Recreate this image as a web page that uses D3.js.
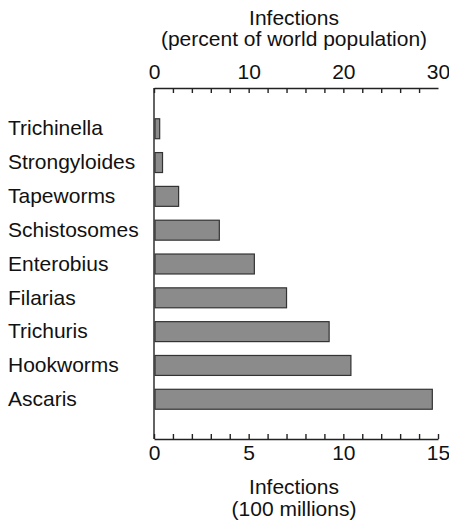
<!DOCTYPE html>
<html lang="en">
<head>
  <meta charset="UTF-8">
  <title>Parasite Infections</title>
  <script src="https://d3js.org/d3.v7.min.js"></script>
  <style>
    body { margin: 0; background: #fff; }
    text { font-family: "Liberation Sans", Arial, sans-serif; fill: #111; }
  </style>
</head>
<body>
<div class="main"></div>
<script>
  // data (infections in 100 millions)
  var parasites = ["Trichinella", "Strongyloides", "Tapeworms", "Schistosomes", "Enterobius",
                   "Filarias", "Trichuris", "Hookworms", "Ascaris"];
  var infections = [0.3, 0.45, 1.3, 3.45, 5.3, 7.0, 9.25, 10.4, 14.7];
  var bottomTicks = [0, 5, 10, 15];
  var topTicks = [0, 10, 20, 30];

  var width = 449, height = 522;
  var plotLeft = 154, plotRight = 438, plotTop = 88, plotBottom = 439;
  var fontSize = 21;

  var svg = d3.select(".main")
          .append("svg")
          .attr("width", width)
          .attr("height", height);

  var xScale = d3.scaleLinear().domain([0, 15]).range([plotLeft, plotRight]);
  var xTop = d3.scaleLinear().domain([0, 30]).range([plotLeft, plotRight]);
  var yScale = d3.scaleBand().domain(parasites).range([112, 416])
          .paddingInner(0.41).paddingOuter(0.2);

  function draw(axis, translate) {
    var g = svg.append("g").attr("transform", translate).call(axis);
    g.selectAll("path,line").attr("stroke", "#222").attr("stroke-width", 1.4);
    g.selectAll("text").style("font-size", fontSize + "px").attr("font-family", null);
    return g;
  }

  // bottom axis: minor ticks, then labels
  draw(d3.axisBottom(xScale).tickValues(d3.range(0, 16, 1)).tickSize(-5).tickSizeOuter(0).tickFormat(""),
       `translate(0, ${plotBottom})`);
  draw(d3.axisBottom(xScale).tickValues(bottomTicks).tickSize(0).tickPadding(6),
       `translate(0, ${plotBottom})`).select(".domain").remove();

  // top axis
  draw(d3.axisTop(xTop).tickValues(d3.range(0, 30, 2)).tickSize(-5).tickSizeOuter(0).tickFormat(""),
       `translate(0, ${plotTop})`);
  draw(d3.axisTop(xTop).tickValues(topTicks).tickSize(0).tickPadding(9),
       `translate(0, ${plotTop})`).select(".domain").remove();

  // left vertical line
  svg.append("line")
          .attr("x1", plotLeft).attr("x2", plotLeft)
          .attr("y1", plotTop).attr("y2", plotBottom)
          .attr("stroke", "#222").attr("stroke-width", 1.4);

  // bars
  svg.append("g").selectAll("rect")
          .data(parasites)
          .join("rect")
          .attr("x", xScale(0) + 1)
          .attr("y", function (d) { return yScale(d); })
          .attr("width", function (d, i) { return xScale(infections[i]) - xScale(0) - 1; })
          .attr("height", yScale.bandwidth())
          .attr("fill", "#8b8b8b")
          .attr("stroke", "#333")
          .attr("stroke-width", 1.2);

  // category labels
  svg.append("g").selectAll("text")
          .data(parasites)
          .join("text")
          .attr("x", 8)
          .attr("y", function (d) { return yScale(d) + yScale.bandwidth() / 2; })
          .attr("dy", "0.32em")
          .style("font-size", fontSize + "px")
          .text(function (d) { return d; });

  // axis titles
  function title(txt, y) {
    svg.append("text").attr("x", 294).attr("y", y)
            .attr("text-anchor", "middle")
            .style("font-size", fontSize + "px")
            .text(txt);
  }
  title("Infections", 25);
  title("(percent of world population)", 46);
  title("Infections", 494);
  title("(100 millions)", 516);
</script>
</body>
</html>
